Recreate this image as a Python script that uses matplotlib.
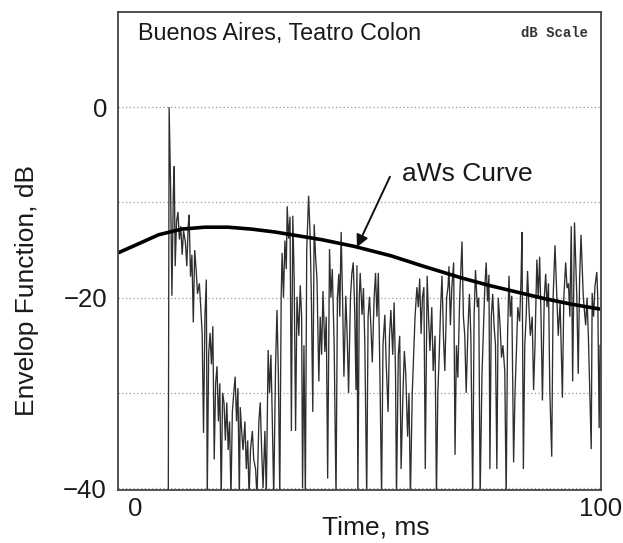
import matplotlib
matplotlib.use("Agg")
import matplotlib.pyplot as plt
import numpy as np

plt.rcParams['font.family'] = ['Liberation Sans', 'DejaVu Sans']

# ---- data ----
title_text = "Buenos Aires, Teatro Colon"
scale_text = "dB Scale"
curve_label = "aWs Curve"
x_label = "Time, ms"
y_label = "Envelop Function, dB"
x_ticks = [0, 100]
x_tick_labels = ["0", "100"]
y_ticks = [-40, -30, -20, -10, 0]
y_tick_labels = ["\u221240", "", "\u221220", "", "0"]

env_pairs = [
    (7.1, -45), (7.3, 0), (7.6, -8), (7.9, -19.8), (8.2, -9), (8.4, -6.2), (8.6, -16.7), (8.9, -12),
    (9.2, -11), (9.5, -13.9), (9.8, -12.5), (10.1, -15.5), (10.4, -13), (10.8, -14.2), (11.1, -16.7),
    (11.4, -12.5), (11.6, -11.3), (11.9, -17.8), (12.2, -15.5), (12.5, -22.6), (12.8, -15), (13.1, -17),
    (13.4, -19.6), (13.8, -18.5), (14.1, -21), (14.4, -23.7), (14.7, -34.2), (15.0, -22), (15.3, -18.1),
    (15.5, -41), (15.8, -26), (16.1, -23.7), (16.4, -27), (16.7, -23), (17.0, -37), (17.3, -29),
    (17.6, -27.2), (17.9, -33), (18.2, -29), (18.5, -41), (18.8, -30), (19.1, -31), (19.4, -35),
    (19.7, -31), (20.0, -36), (20.3, -33), (20.6, -41), (20.9, -32), (21.2, -30), (21.5, -28.3),
    (21.8, -33), (22.1, -29.5), (22.4, -41), (22.6, -31.5), (22.9, -34), (23.2, -36), (23.6, -33),
    (23.9, -38), (24.2, -35), (24.5, -41), (24.8, -36), (25.2, -34), (25.5, -37), (25.9, -38),
    (26.2, -41), (26.6, -33), (26.9, -31), (27.2, -36), (27.5, -40), (27.9, -34), (28.2, -41),
    (28.6, -25.5), (28.9, -30), (29.2, -26), (29.5, -33), (29.8, -41), (30.2, -27), (30.5, -21.3),
    (30.8, -28), (31.1, -41), (31.4, -20), (31.6, -15.3), (31.9, -20), (32.2, -14), (32.5, -17),
    (32.7, -10.4), (33.0, -13.8), (33.3, -11.5), (33.6, -34),
    (33.9, -11.4), (34.2, -18), (34.5, -34), (34.8, -19.9), (35.2, -24), (35.5, -18.7), (35.8, -22),
    (36.0, -40), (36.3, -25), (36.6, -41), (36.9, -15), (37.3, -9.3), (37.6, -13), (37.9, -20),
    (38.2, -32), (38.5, -12.3), (38.8, -15.7), (39.1, -18), (39.5, -28.8), (39.8, -22), (40.1, -26),
    (40.4, -19.3), (40.8, -25.7), (41.1, -22), (41.4, -39), (41.8, -14.9), (42.1, -20), (42.4, -17),
    (42.8, -25), (43.2, -41), (43.5, -20), (43.8, -17.5), (44.0, -22), (44.3, -13.1), (44.6, -20),
    (44.9, -28.3), (45.3, -19.8), (45.6, -24), (45.9, -30), (46.3, -20), (46.6, -17.5), (46.9, -16.3),
    (47.2, -21), (47.5, -29.7),
    (47.7, -16.6), (47.9, -41), (48.2, -20), (48.4, -17.4), (48.8, -21.8), (49.1, -19), (49.4, -25),
    (49.8, -41), (50.1, -22), (50.4, -19.9), (50.7, -23), (51.0, -26.8), (51.4, -20), (51.7, -17.4),
    (52.0, -22), (52.3, -17.4), (52.7, -30), (53.0, -41), (53.3, -25), (53.7, -21.8), (54.0, -27),
    (54.4, -32), (54.7, -24), (55.0, -21.3), (55.4, -26), (55.7, -20.5), (56.0, -28), (56.2, -41),
    (56.6, -26), (56.9, -24), (57.2, -38), (57.6, -30), (57.9, -25.6), (58.2, -28), (58.6, -34.6),
    (58.9, -30), (59.2, -41), (59.6, -30), (59.9, -26), (60.2, -22), (60.6, -18.9), (60.9, -21),
    (61.2, -18), (61.5, -23.8), (61.8, -19.9),
    (62.1, -18.9), (62.4, -38), (62.8, -17.7), (63.1, -22), (63.4, -25.6), (63.8, -21), (64.1, -27.7),
    (64.5, -24), (64.8, -41), (65.1, -30), (65.4, -26), (65.7, -21), (66.0, -17.7), (66.3, -24),
    (66.6, -27.7), (67.0, -20), (67.3, -18.8), (67.5, -16.7), (67.8, -22.9), (68.1, -19), (68.5, -16.3),
    (68.8, -36.5), (69.1, -25), (69.4, -28.4), (69.8, -20), (70.3, -14.1), (70.6, -22), (70.9, -24),
    (71.2, -30), (71.6, -23), (71.9, -19.6), (72.2, -24), (72.6, -41), (72.9, -22), (73.2, -17.1),
    (73.6, -21), (73.9, -20), (74.2, -41), (74.6, -28), (74.9, -23.5), (75.2, -19), (75.5, -16.3),
    (75.8, -20.4),
    (76.1, -17.6), (76.3, -38), (76.6, -22), (76.9, -19.6), (77.2, -23), (77.5, -24.9), (77.8, -38),
    (78.1, -20), (78.5, -23), (78.8, -26.3), (79.1, -25), (79.5, -27.7), (79.8, -41), (80.1, -24),
    (80.4, -17.7), (80.7, -22), (81.0, -19.8), (81.4, -37.3), (81.7, -30), (82.0, -25.7), (82.3, -21),
    (82.7, -22.5), (83.0, -18), (83.2, -13.1), (83.5, -38), (83.8, -25), (84.1, -22), (84.4, -17.2),
    (84.7, -21), (85.0, -24), (85.4, -22), (85.7, -29.7), (86.0, -25), (86.4, -16), (86.7, -20),
    (87.0, -15.7), (87.3, -22), (87.6, -30.8), (88.0, -20), (88.3, -17.5), (88.6, -21), (88.9, -18.5),
    (89.2, -30), (89.6, -36.7),
    (89.9, -20), (90.3, -14.5), (90.7, -20), (91.0, -24), (91.4, -20.5), (91.9, -30.5), (92.2, -20),
    (92.6, -16.3), (92.9, -19), (93.2, -18.5), (93.5, -22), (93.8, -12.5), (94.1, -28.8), (94.5, -12.1),
    (95.0, -20), (95.3, -28), (95.6, -18), (95.9, -13.4), (96.4, -20), (96.9, -22.9), (97.2, -20),
    (97.5, -24.3), (98.1, -35.9), (98.3, -19.5), (98.6, -22), (98.9, -18.8), (99.3, -17.3), (99.5, -20),
    (99.8, -33.7), (100.0, -25),
]
env_t = [p[0] for p in env_pairs]
env_db = [p[1] for p in env_pairs]

curve_t = [-3.7, 0, 5, 10, 15, 20, 25, 30, 35, 40, 47, 55, 62, 70, 76, 82, 88, 94, 100]
curve_db = [-15.3, -14.5, -13.4, -12.8, -12.6, -12.6, -12.8, -13.1, -13.5, -13.9, -14.6,
            -15.6, -16.7, -17.9, -18.7, -19.4, -20.1, -20.7, -21.2]

# ---- figure ----
fig = plt.figure(figsize=(6.23, 5.43), dpi=100)
ax = fig.add_axes([118 / 623, 1 - 490 / 543, 483 / 623, 478 / 543])

ax.set_xlim(-3.7, 100.2)
ax.set_ylim(-40.2, 10.0)

ax.yaxis.grid(True, linestyle=(0, (1, 2)), color='#9a9a9a', lw=0.9)
ax.set_axisbelow(True)

ax.plot(env_t, env_db, color='#2e2e2e', lw=0.95, solid_joinstyle='miter')
ax.plot(curve_t, curve_db, color='black', lw=2.6, solid_capstyle='butt')

ax.annotate('', xy=(47.7, -14.7), xytext=(54.8, -7.3),
            arrowprops=dict(arrowstyle='-|>', color='#111111', lw=1.4, mutation_scale=18,
                            shrinkA=0, shrinkB=0))
ax.text(57.4, -7.05, curve_label, fontsize=19, ha='left', va='center', color='#1a1a1a')

ax.text(0.041, 0.956, title_text, transform=ax.transAxes, fontsize=16.8,
        ha='left', va='center', color='#1a1a1a')
ax.text(0.973, 0.956, scale_text, transform=ax.transAxes, fontsize=10, fontweight='bold',
        ha='right', va='center', color='#333333', family=['Liberation Mono', 'DejaVu Sans Mono'])

ax.set_xticks(x_ticks)
ax.set_xticklabels(x_tick_labels)
ax.set_yticks(y_ticks)
ax.set_yticklabels(y_tick_labels)
ax.tick_params(axis='both', length=0, labelsize=18.5, colors='#1a1a1a')
ax.tick_params(axis='x', pad=5)
ax.tick_params(axis='y', pad=8)

ax.set_xlabel(x_label, fontsize=19, color='#1a1a1a')
ax.xaxis.set_label_coords((376 - 118) / 483, (490 - 528) / 478)
ax.xaxis.label.set_va('center')
ax.set_ylabel(y_label, fontsize=19, color='#1a1a1a')
ax.yaxis.set_label_coords((27 - 118) / 483, (490 - 290) / 478)
ax.yaxis.label.set_va('center')

for s in ax.spines.values():
    s.set_color('#444444')
    s.set_linewidth(1.3)

fig.savefig('out.png', dpi=100)
